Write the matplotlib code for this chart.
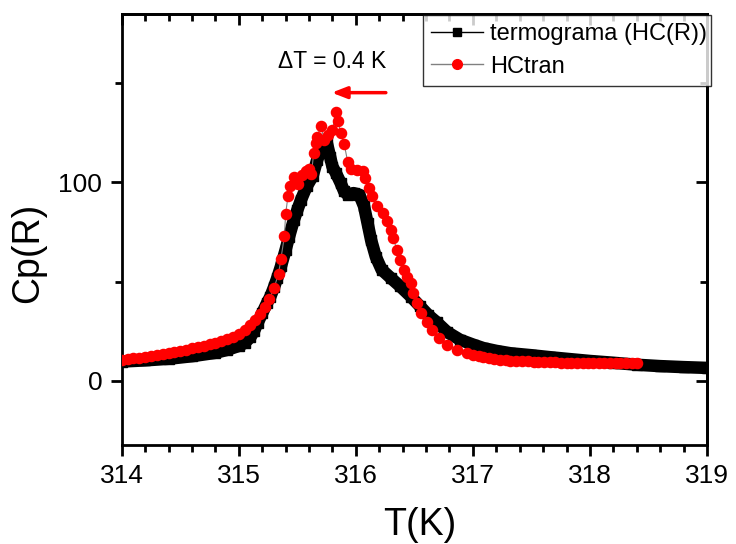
import matplotlib
matplotlib.use("Agg")
import matplotlib.pyplot as plt
from matplotlib.lines import Line2D
from matplotlib.ticker import MultipleLocator

plt.rcParams['font.family'] = ['Liberation Sans', 'DejaVu Sans']

# termograma (HC(R)) - black squares
t_black = [314.0, 314.2, 314.4, 314.6, 314.8, 314.9, 315.0, 315.05, 315.1, 315.13,
           315.16, 315.2, 315.24, 315.27, 315.3, 315.33, 315.36, 315.4, 315.43, 315.47,
           315.5, 315.53, 315.58, 315.63, 315.67, 315.71, 315.75, 315.78, 315.8, 315.83,
           315.87, 315.9, 315.93, 315.98, 316.03, 316.07, 316.1, 316.13, 316.17, 316.22,
           316.3, 316.38, 316.47, 316.55, 316.62, 316.69, 316.78, 316.89, 317.0, 317.09,
           317.2, 317.32, 317.5, 317.66, 317.8, 318.0, 318.2, 318.4, 318.6, 318.8, 319.0]
cp_black = [9.6, 10.2, 11.0, 12.3, 14.0, 15.5, 17.5, 19.0, 22.0, 25.0,
            29.0, 34.0, 39.0, 42.4, 47.0, 52.0, 57.6, 66.0, 72.7, 81.0,
            86.0, 91.0, 98.0, 103.0, 111.5, 117.4, 120.5, 113.0, 108.0, 104.7,
            99.7, 95.5, 93.8, 94.6, 93.8, 88.0, 79.5, 71.0, 62.6, 56.0,
            51.7, 47.5, 42.4, 37.4, 33.0, 29.5, 24.5, 20.6, 18.2, 16.4,
            15.0, 13.8, 12.8, 11.8, 11.0, 9.9, 9.0, 8.0, 7.3, 6.8, 6.4]

# HCtran - red circles
t_red = [314.00, 314.05, 314.10, 314.15, 314.20, 314.25, 314.30, 314.35, 314.40, 314.45,
         314.50, 314.55, 314.60, 314.65, 314.70, 314.75, 314.80, 314.85, 314.90, 314.95,
         315.00, 315.05, 315.10, 315.14, 315.18, 315.22, 315.26, 315.30, 315.34, 315.36,
         315.39, 315.40, 315.42, 315.44, 315.47, 315.51, 315.54, 315.57, 315.60, 315.62,
         315.64, 315.66, 315.67, 315.70, 315.73, 315.76, 315.80, 315.83, 315.85, 315.87,
         315.90, 315.93, 315.96, 316.01, 316.06, 316.08, 316.11, 316.14, 316.18, 316.23,
         316.27, 316.30, 316.32, 316.35, 316.38, 316.41, 316.44, 316.47, 316.49, 316.52,
         316.56, 316.61, 316.65, 316.71, 316.78, 316.86, 316.95, 317.00, 317.05, 317.09,
         317.14, 317.18, 317.23, 317.28, 317.32, 317.37, 317.42, 317.47, 317.52, 317.56,
         317.61, 317.66, 317.70, 317.75, 317.80, 317.84, 317.89, 317.94, 317.98, 318.03,
         318.08, 318.12, 318.17, 318.22, 318.26, 318.31, 318.36, 318.40]
cp_red = [10.5, 10.8, 11.2, 11.6, 12.0, 12.5, 13.0, 13.5, 14.0, 14.5,
          15.0, 15.6, 16.2, 16.8, 17.5, 18.3, 19.1, 19.9, 21.0, 22.0,
          23.5, 25.5, 28.0, 30.5, 33.5, 37.0, 41.0, 46.5, 54.0, 61.5,
          73.0, 84.0, 93.0, 98.0, 102.5, 99.0, 103.5, 106.0, 107.0, 104.0,
          115.0, 120.0, 123.0, 128.5, 121.5, 124.0, 126.5, 135.5, 131.0, 125.0,
          119.5, 110.5, 107.0, 106.5, 106.0, 102.0, 97.0, 93.0, 88.0, 84.5,
          80.3, 76.0, 72.0, 66.0, 61.0, 56.0, 52.5, 49.0, 44.0, 39.0,
          34.0, 29.8, 25.6, 21.4, 18.0, 15.5, 13.8, 13.0, 12.3, 11.8,
          11.3, 11.0, 10.5, 10.3, 10.1, 10.0, 9.9, 9.7, 9.6, 9.5,
          9.4, 9.3, 9.2, 9.1, 9.1, 9.0, 9.0, 9.0, 8.9, 8.9,
          8.9, 8.9, 8.8, 8.8, 8.8, 8.8, 8.8, 8.8]

x_ticks = [314, 315, 316, 317, 318, 319]
y_ticks = [0, 100]

fig = plt.figure(figsize=(7.36, 5.44), dpi=100)
ax = fig.add_axes([0.1654, 0.182, 0.7952, 0.7923])

ax.plot(t_black, cp_black, color='black', lw=9, solid_capstyle='butt',
        solid_joinstyle='round', marker='s', ms=7.5, mfc='black', mec='black', zorder=2)
ax.plot(t_red, cp_red, color='#808080', lw=0.8, marker='o', ms=7.3,
        mfc='red', mec='red', zorder=3)

ax.set_xlim(314, 319)
ax.set_ylim(-32.5, 185)
ax.set_xticks(x_ticks)
ax.set_yticks(y_ticks)
ax.xaxis.set_minor_locator(MultipleLocator(0.2))
ax.yaxis.set_minor_locator(MultipleLocator(50))
ax.tick_params(which='major', direction='out', length=8, width=2, labelsize=19,
               top=False, right=False)
ax.tick_params(axis='x', which='major', pad=6)
ax.tick_params(axis='y', which='major', pad=6)
ax.tick_params(which='minor', direction='out', length=5, width=2, top=False, right=False)
for s in ax.spines.values():
    s.set_linewidth(2)

secx = ax.secondary_xaxis('top')
secx.set_xticks(x_ticks)
secx.xaxis.set_minor_locator(MultipleLocator(0.2))
secx.tick_params(which='major', direction='in', length=8, width=2, labeltop=False)
secx.tick_params(which='minor', direction='in', length=5, width=2)
secx.spines['top'].set_linewidth(2)
secy = ax.secondary_yaxis('right')
secy.set_yticks(y_ticks)
secy.yaxis.set_minor_locator(MultipleLocator(50))
secy.tick_params(which='major', direction='in', length=8, width=2, labelright=False)
secy.tick_params(which='minor', direction='in', length=5, width=2)
secy.spines['right'].set_linewidth(2)

ax.set_xlabel('T(K)', fontsize=27, va='center', ha='center')
ax.set_ylabel('Cp(R)', fontsize=27, va='center', ha='center')
ax.xaxis.set_label_coords(0.51, -0.185)
ax.yaxis.set_label_coords(-0.16, 0.445)

ax.text(315.80, 161, 'ΔT = 0.4 K', fontsize=16.5, ha='center', va='center')
ax.annotate('', xy=(315.77, 145.3), xytext=(316.28, 145.3),
            arrowprops=dict(arrowstyle='-|>,head_length=0.9,head_width=0.35',
                            color='red', lw=2.5))

handles = [Line2D([], [], color='black', lw=1, marker='s', ms=6, mfc='black', mec='black'),
           Line2D([], [], color='#808080', lw=1, marker='o', ms=7, mfc='red', mec='red')]
leg = ax.legend(handles, ['termograma (HC(R))', 'HCtran'], loc='upper left',
                bbox_to_anchor=(0.515, 0.842, 0.491, 0.156), mode='expand',
                fontsize=17, frameon=True, fancybox=False, edgecolor='black',
                handlelength=2.2, handletextpad=0.3, borderpad=0.35, labelspacing=0.45,
                borderaxespad=0)
leg.get_frame().set_linewidth(1)

fig.savefig('out.png', dpi=100)
